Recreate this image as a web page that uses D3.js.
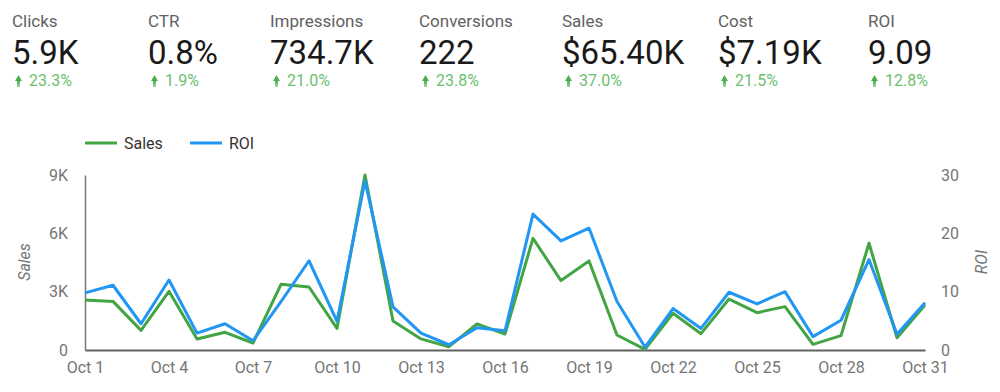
<!DOCTYPE html>
<html>
<head>
<meta charset="utf-8">
<script src="https://cdn.jsdelivr.net/npm/d3@7"></script>
<style>
  body { margin: 0; background: #fff; font-family: Roboto, "Noto Sans", sans-serif; }
  svg { display: block; }
</style>
</head>
<body>
<svg id="chart" width="1000" height="392"></svg>
<script>
// scorecards along the top
const kpiLabels = ["Clicks", "CTR", "Impressions", "Conversions", "Sales", "Cost", "ROI"]
const kpiValues = ["5.9K", "0.8%", "734.7K", "222", "$65.40K", "$7.19K", "9.09"]
const kpiDeltas = ["23.3%", "1.9%", "21.0%", "23.8%", "37.0%", "21.5%", "12.8%"]

// daily series for October
const days = d3.range(1, 32)
const sales = [2570, 2500, 1010, 3020, 570, 910, 360, 3380, 3240, 1110,
  9000, 1490, 570, 170, 1340, 820, 5740, 3570, 4580, 770,
  30, 1890, 840, 2620, 1920, 2230, 290, 740, 5490, 630, 2310]
const roi = [9.8, 11.1, 4.5, 12.0, 2.9, 4.5, 1.6, 8.3, 15.3, 4.9,
  29.0, 7.4, 2.9, 0.9, 3.8, 3.3, 23.3, 18.7, 20.9, 8.3,
  0.5, 7.1, 3.7, 9.9, 7.9, 10.0, 2.3, 5.1, 15.5, 2.7, 8.1]
const xTicks = [1, 4, 7, 10, 13, 16, 19, 22, 25, 28, 31]

const green = "#43a443"
const blue = "#2196f3"
const svg = d3.select("#chart")

// ---- scorecards
const kpiX = [12, 148, 270, 419, 562, 718, 868]
const cards = svg.selectAll("g.kpi")
  .data(kpiLabels)
  .join("g")
  .attr("class", "kpi")
  .attr("transform", (d, i) => `translate(${kpiX[i]},0)`)

cards.append("text")
  .attr("y", 27)
  .attr("font-size", 17)
  .attr("fill", "#616161")
  .text(d => d)

cards.append("text")
  .attr("y", 64)
  .attr("font-size", 33)
  .attr("fill", "#1a1a1a")
  .text((d, i) => kpiValues[i])

// fading up arrow, like the source
const grad = svg.append("defs").append("linearGradient")
  .attr("id", "arrowFade").attr("x1", 0).attr("y1", 0).attr("x2", 0).attr("y2", 1)
grad.append("stop").attr("offset", "0.5").attr("stop-color", "#4caf50")
grad.append("stop").attr("offset", "1").attr("stop-color", "#a5d6a7")

cards.append("path")
  .attr("d", "M3,81 L6.5,75 L10,81 L8,81 L8,87 L5,87 L5,81 Z")
  .attr("fill", "url(#arrowFade)")

cards.append("text")
  .attr("x", 17)
  .attr("y", 86)
  .attr("font-size", 16)
  .attr("fill", "#6cc070")
  .text((d, i) => kpiDeltas[i])

// ---- chart
const x = d3.scaleLinear().domain([1, 31]).range([85, 925])
const ySales = d3.scaleLinear().domain([0, 9000]).range([350, 175])
const yRoi = d3.scaleLinear().domain([0, 30]).range([350, 175])

const axisColor = "#757575"

const xAxis = svg.append("g")
  .attr("transform", "translate(0,350)")
  .call(d3.axisBottom(x).tickValues(xTicks).tickSize(0).tickPadding(12)
    .tickFormat(d => "Oct " + d))
xAxis.select(".domain").attr("stroke", "#616161").attr("stroke-width", 2)
xAxis.selectAll("text").attr("font-size", 16).attr("fill", axisColor)
  .attr("font-family", "Roboto")

const yLeft = svg.append("g")
  .attr("transform", "translate(85,0)")
  .call(d3.axisLeft(ySales).tickValues([0, 3000, 6000, 9000]).tickSize(0).tickPadding(17)
    .tickFormat(d => d == 0 ? "0" : d / 1000 + "K"))
yLeft.select(".domain").attr("stroke", axisColor).attr("stroke-width", 1.5)
yLeft.selectAll("text").attr("font-size", 16).attr("fill", axisColor)
  .attr("font-family", "Roboto")

const yRight = svg.append("g")
  .attr("transform", "translate(925,0)")
  .call(d3.axisRight(yRoi).tickValues([0, 10, 20, 30]).tickSize(0).tickPadding(16))
yRight.select(".domain").remove()
yRight.selectAll("text").attr("font-size", 16).attr("fill", axisColor)
  .attr("font-family", "Roboto")

svg.append("text")
  .attr("transform", "translate(30,262) rotate(-90)")
  .attr("text-anchor", "middle")
  .attr("font-size", 16).attr("font-style", "italic").attr("fill", axisColor)
  .text("Sales")

svg.append("text")
  .attr("transform", "translate(987,262) rotate(-90)")
  .attr("text-anchor", "middle")
  .attr("font-size", 16).attr("font-style", "italic").attr("fill", axisColor)
  .text("ROI")

const salesLine = d3.line().x((d, i) => x(days[i])).y(d => ySales(d))
const roiLine = d3.line().x((d, i) => x(days[i])).y(d => yRoi(d))

svg.append("path")
  .datum(sales)
  .attr("d", salesLine)
  .attr("fill", "none")
  .attr("stroke", green)
  .attr("stroke-width", 3)
  .attr("stroke-linejoin", "round")

svg.append("path")
  .datum(roi)
  .attr("d", roiLine)
  .attr("fill", "none")
  .attr("stroke", blue)
  .attr("stroke-width", 3)
  .attr("stroke-linejoin", "round")

// ---- legend
const legend = [{ name: "Sales", color: green, x: 85 }, { name: "ROI", color: blue, x: 190 }]
const lg = svg.selectAll("g.legend")
  .data(legend)
  .join("g")
  .attr("class", "legend")
  .attr("transform", d => `translate(${d.x},143)`)
lg.append("line")
  .attr("x1", 0).attr("x2", 32)
  .attr("stroke", d => d.color).attr("stroke-width", 3)
lg.append("text")
  .attr("x", 39).attr("y", 6)
  .attr("font-size", 16).attr("fill", "#333")
  .text(d => d.name)
</script>
</body>
</html>
